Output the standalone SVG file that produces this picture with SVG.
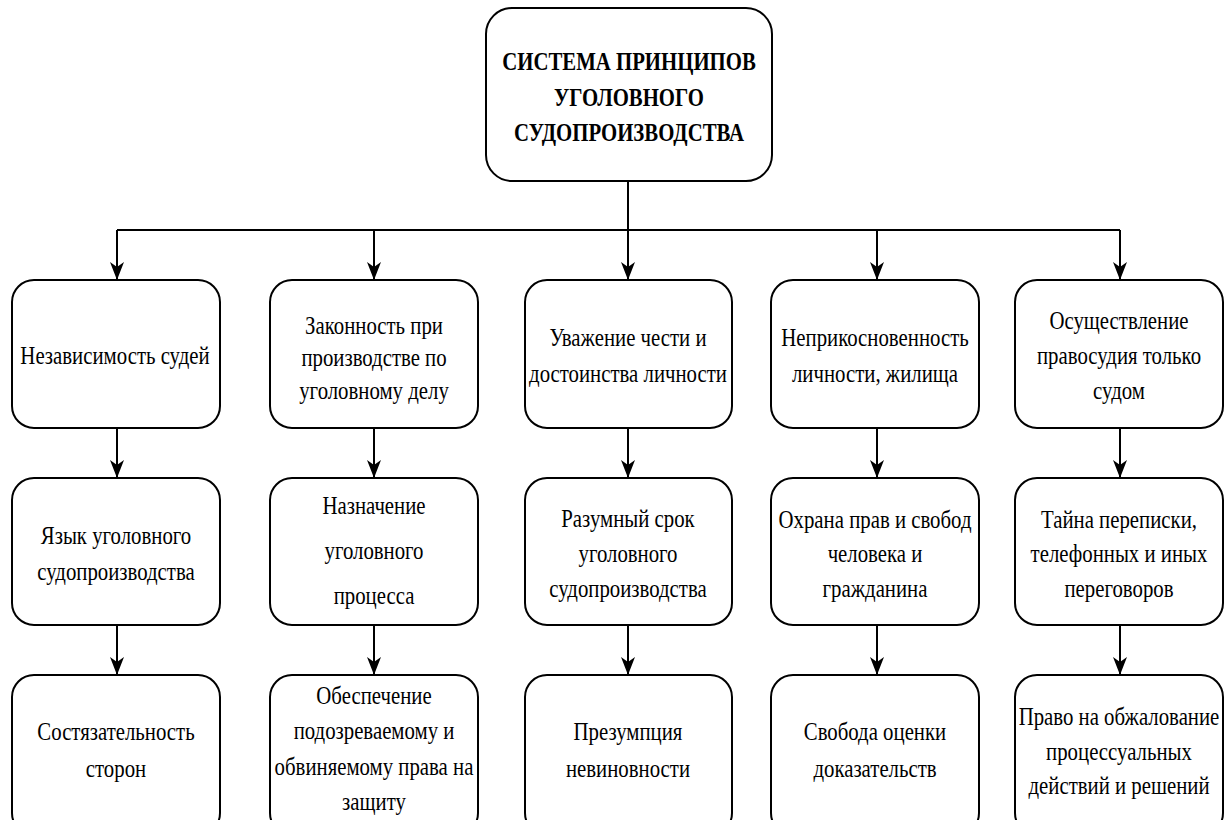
<svg xmlns="http://www.w3.org/2000/svg" width="1229" height="820" viewBox="0 0 1229 820">
<style>
.b{fill:#fff;stroke:#000;stroke-width:2}
.t{font-family:"Liberation Serif","Times New Roman",serif;font-size:26px;fill:#000;text-anchor:middle}
.h{font-weight:bold;font-size:26px}
.c{fill:none;stroke:#000;stroke-width:2}
</style>
<defs>
<marker id="a" viewBox="0 0 18 14" refX="17" refY="7" markerWidth="18" markerHeight="14" markerUnits="userSpaceOnUse" orient="auto">
<path d="M0,0 L18,7 L0,14 L5,7 Z" fill="#000"/>
</marker>
</defs>
<rect width="1229" height="820" fill="#fff"/>
<g id="connectors">
<path class="c" d="M628,181 V230"/>
<path class="c" d="M117,230 H1120"/>
<path class="c" d="M117,230 V279" marker-end="url(#a)"/>
<path class="c" d="M374,230 V279" marker-end="url(#a)"/>
<path class="c" d="M628,230 V279" marker-end="url(#a)"/>
<path class="c" d="M877,230 V279" marker-end="url(#a)"/>
<path class="c" d="M1120,230 V279" marker-end="url(#a)"/>
<path class="c" d="M117,428 V477" marker-end="url(#a)"/>
<path class="c" d="M374,428 V477" marker-end="url(#a)"/>
<path class="c" d="M628,428 V477" marker-end="url(#a)"/>
<path class="c" d="M877,428 V477" marker-end="url(#a)"/>
<path class="c" d="M1120,428 V477" marker-end="url(#a)"/>
<path class="c" d="M117,625 V674" marker-end="url(#a)"/>
<path class="c" d="M374,625 V674" marker-end="url(#a)"/>
<path class="c" d="M628,625 V674" marker-end="url(#a)"/>
<path class="c" d="M877,625 V674" marker-end="url(#a)"/>
<path class="c" d="M1120,625 V674" marker-end="url(#a)"/>
</g>
<g id="root">
<rect class="b" x="486" y="8" width="286" height="173" rx="26"/>
<text class="t h" transform="translate(629 0) scale(0.8 1)"><tspan x="0" y="70">СИСТЕМА ПРИНЦИПОВ</tspan><tspan x="0" y="106">УГОЛОВНОГО</tspan><tspan x="0" y="141">СУДОПРОИЗВОДСТВА</tspan></text>
</g>
<g id="n11"><rect class="b" x="12" y="280" width="208" height="148" rx="22"/>
<text class="t" transform="translate(115 0) scale(0.8 1)"><tspan x="0" y="364">Независимость судей</tspan></text></g>
<g id="n12"><rect class="b" x="270" y="280" width="208" height="148" rx="22"/>
<text class="t" transform="translate(374 0) scale(0.8 1)"><tspan x="0" y="334">Законность при</tspan><tspan x="0" y="366">производстве по</tspan><tspan x="0" y="399">уголовному делу</tspan></text></g>
<g id="n13"><rect class="b" x="525" y="280" width="207" height="148" rx="22"/>
<text class="t" transform="translate(628 0) scale(0.8 1)"><tspan x="0" y="346">Уважение чести и</tspan><tspan x="0" y="382">достоинства личности</tspan></text></g>
<g id="n14"><rect class="b" x="771" y="280" width="208" height="148" rx="22"/>
<text class="t" transform="translate(875 0) scale(0.8 1)"><tspan x="0" y="346">Неприкосновенность</tspan><tspan x="0" y="382">личности, жилища</tspan></text></g>
<g id="n15"><rect class="b" x="1015" y="280" width="208" height="148" rx="22"/>
<text class="t" transform="translate(1119 0) scale(0.8 1)"><tspan x="0" y="329">Осуществление</tspan><tspan x="0" y="364">правосудия только</tspan><tspan x="0" y="399">судом</tspan></text></g>
<g id="n21"><rect class="b" x="12" y="478" width="208" height="147" rx="22"/>
<text class="t" transform="translate(116 0) scale(0.8 1)"><tspan x="0" y="544">Язык уголовного</tspan><tspan x="0" y="580">судопроизводства</tspan></text></g>
<g id="n22"><rect class="b" x="270" y="478" width="208" height="147" rx="22"/>
<text class="t" transform="translate(374 0) scale(0.8 1)"><tspan x="0" y="514">Назначение</tspan><tspan x="0" y="559">уголовного</tspan><tspan x="0" y="604">процесса</tspan></text></g>
<g id="n23"><rect class="b" x="525" y="478" width="207" height="147" rx="22"/>
<text class="t" transform="translate(628 0) scale(0.8 1)"><tspan x="0" y="527">Разумный срок</tspan><tspan x="0" y="562">уголовного</tspan><tspan x="0" y="597">судопроизводства</tspan></text></g>
<g id="n24"><rect class="b" x="771" y="478" width="208" height="147" rx="22"/>
<text class="t" transform="translate(875 0) scale(0.8 1)"><tspan x="0" y="528">Охрана прав и свобод</tspan><tspan x="0" y="562">человека и</tspan><tspan x="0" y="597">гражданина</tspan></text></g>
<g id="n25"><rect class="b" x="1015" y="478" width="208" height="147" rx="22"/>
<text class="t" transform="translate(1119 0) scale(0.8 1)"><tspan x="0" y="528">Тайна переписки,</tspan><tspan x="0" y="562">телефонных и иных</tspan><tspan x="0" y="597">переговоров</tspan></text></g>
<g id="n31"><rect class="b" x="12" y="675" width="208" height="160" rx="22"/>
<text class="t" transform="translate(116 0) scale(0.8 1)"><tspan x="0" y="740">Состязательность</tspan><tspan x="0" y="777">сторон</tspan></text></g>
<g id="n32"><rect class="b" x="270" y="675" width="208" height="160" rx="22"/>
<text class="t" transform="translate(374 0) scale(0.8 1)"><tspan x="0" y="704">Обеспечение</tspan><tspan x="0" y="739">подозреваемому и</tspan><tspan x="0" y="775">обвиняемому права на</tspan><tspan x="0" y="810">защиту</tspan></text></g>
<g id="n33"><rect class="b" x="525" y="675" width="207" height="160" rx="22"/>
<text class="t" transform="translate(628 0) scale(0.8 1)"><tspan x="0" y="740">Презумпция</tspan><tspan x="0" y="777">невиновности</tspan></text></g>
<g id="n34"><rect class="b" x="771" y="675" width="208" height="160" rx="22"/>
<text class="t" transform="translate(875 0) scale(0.8 1)"><tspan x="0" y="740">Свобода оценки</tspan><tspan x="0" y="777">доказательств</tspan></text></g>
<g id="n35"><rect class="b" x="1015" y="675" width="208" height="160" rx="22"/>
<text class="t" transform="translate(1119 0) scale(0.8 1)"><tspan x="0" y="725">Право на обжалование</tspan><tspan x="0" y="760">процессуальных</tspan><tspan x="0" y="794">действий и решений</tspan></text></g>
</svg>
